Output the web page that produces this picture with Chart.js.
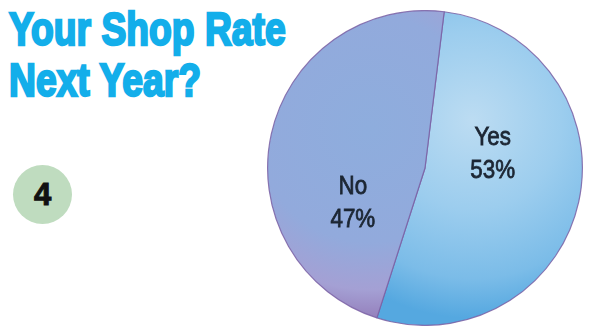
<!DOCTYPE html>
<html>
<head>
<meta charset="utf-8">
<script src="https://cdn.jsdelivr.net/npm/chart.js@4/dist/chart.umd.min.js"></script>
<style>
  html, body { margin: 0; padding: 0; background: #fff; width: 595px; height: 328px; overflow: hidden; }
  .title {
    position: absolute; left: 9px; top: 4px; white-space: nowrap;
    font-family: "Liberation Sans", Arial, sans-serif;
    font-weight: bold; font-size: 46px; line-height: 51px;
    color: #13aeea; -webkit-text-stroke: 2.4px #13aeea;
    transform: scaleX(0.81); transform-origin: 0 0;
  }
  .badge {
    position: absolute; left: 13px; top: 165px; width: 59px; height: 59px;
    border-radius: 50%; background: #bfdcbf;
    font-family: "Liberation Sans", Arial, sans-serif; font-weight: bold;
    font-size: 31px; line-height: 59px; text-align: center; color: #111;
    -webkit-text-stroke: 1px #111;
  }
  #wrap { position: absolute; left: 266px; top: 10px; width: 318px; height: 316px; }
</style>
</head>
<body>
<div class="title">Your Shop Rate<br>Next Year?</div>
<div class="badge">4</div>
<div id="wrap"><canvas id="pie"></canvas></div>
<script>
const answers = ['Yes', 'No'];
const shares = [53, 47];

// where each slice's text sits: angle (deg, canvas coords) and fraction of radius
const labelSpots = [
  { angle: -12, frac: 0.44 },
  { angle: 154, frac: 0.51 }
];

function sliceFill(context) {
  const chart = context.chart;
  const area = chart.chartArea;
  if (!area) return context.dataIndex === 0 ? '#92c8ec' : '#97a8da';
  const cx = (area.left + area.right) / 2;
  const cy = (area.top + area.bottom) / 2;
  const r = Math.min(area.right - area.left, area.bottom - area.top) / 2;
  const ctx = chart.ctx;
  let g;
  if (context.dataIndex === 0) {
    g = ctx.createRadialGradient(cx + 0.3 * r, cy - 0.3 * r, 0, cx + 0.3 * r, cy - 0.3 * r, 1.25 * r);
    g.addColorStop(0, '#bcdcf2');
    g.addColorStop(0.45, '#9ccdee');
    g.addColorStop(0.8, '#7bbce8');
    g.addColorStop(1, '#55a8e0');
  } else {
    g = ctx.createRadialGradient(cx - 0.35 * r, cy - 0.25 * r, 0, cx - 0.35 * r, cy - 0.25 * r, 1.2 * r);
    g.addColorStop(0, '#8eaddd');
    g.addColorStop(0.6, '#92aadc');
    g.addColorStop(0.85, '#a4a0d4');
    g.addColorStop(1, '#9580bc');
  }
  return g;
}

const sliceText = {
  id: 'sliceText',
  afterDatasetsDraw(chart) {
    const ctx = chart.ctx;
    const arcs = chart.getDatasetMeta(0).data;
    ctx.save();
    ctx.fillStyle = '#1c2633';
    ctx.strokeStyle = '#1c2633';
    ctx.lineWidth = 0.8;
    ctx.font = '26px "Liberation Sans", Arial, sans-serif';
    ctx.textAlign = 'center';
    ctx.textBaseline = 'middle';
    arcs.forEach((arc, i) => {
      const spot = labelSpots[i];
      const a = spot.angle * Math.PI / 180;
      const x = arc.x + Math.cos(a) * arc.outerRadius * spot.frac;
      const y = arc.y + Math.sin(a) * arc.outerRadius * spot.frac;
      ctx.save();
      ctx.translate(x, y);
      ctx.scale(0.86, 1);
      [answers[i], shares[i] + '%'].forEach((t, k) => {
        const ty = k === 0 ? -16 : 17;
        ctx.fillText(t, 0, ty);
        ctx.strokeText(t, 0, ty);
      });
      ctx.restore();
    });
    ctx.restore();
  }
};

new Chart(document.getElementById('pie'), {
  type: 'pie',
  data: {
    labels: answers,
    datasets: [{
      data: shares,
      backgroundColor: sliceFill,
      borderColor: 'rgba(122, 96, 164, 0.85)',
      borderWidth: 1.2
    }]
  },
  options: {
    responsive: true,
    maintainAspectRatio: false,
    animation: false,
    rotation: 7,
    layout: { padding: 0 },
    plugins: { legend: { display: false }, tooltip: { enabled: false } }
  },
  plugins: [sliceText]
});
</script>
</body>
</html>
